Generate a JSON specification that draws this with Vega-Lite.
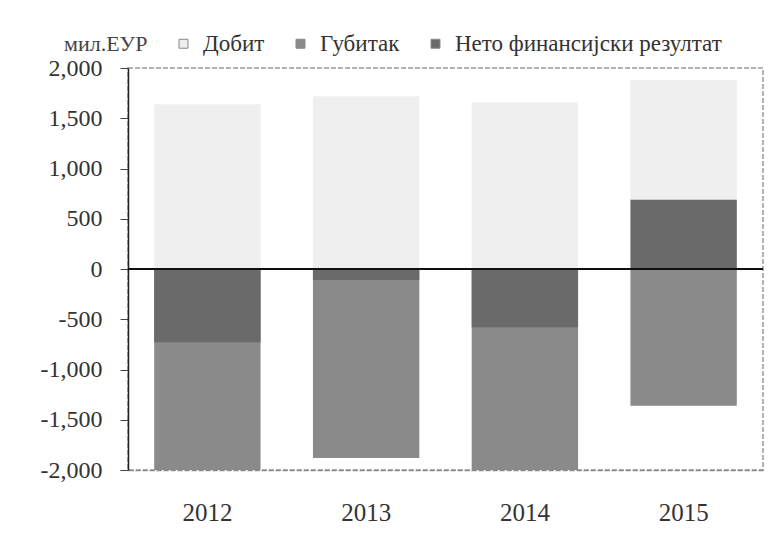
{
  "$schema": "https://vega.github.io/schema/vega-lite/v6.json",
  "width": 635,
  "height": 402,
  "autosize": "none",
  "padding": {"left": 128, "top": 68, "right": 7, "bottom": 69},
  "background": "white",
  "config": {
    "font": "Liberation Serif",
    "view": {"stroke": "#9a9a9a", "strokeDash": [5, 2], "strokeWidth": 1.5}
  },
  "data": {
    "values": [
      {"year": "2012", "series": "Добит", "value": 1640},
      {"year": "2013", "series": "Добит", "value": 1720},
      {"year": "2014", "series": "Добит", "value": 1660},
      {"year": "2015", "series": "Добит", "value": 1880},
      {"year": "2012", "series": "Губитак", "value": -2000},
      {"year": "2013", "series": "Губитак", "value": -1880},
      {"year": "2014", "series": "Губитак", "value": -2020},
      {"year": "2015", "series": "Губитак", "value": -1360},
      {"year": "2012", "series": "Нето финансијски резултат", "value": -730},
      {"year": "2013", "series": "Нето финансијски резултат", "value": -110},
      {"year": "2014", "series": "Нето финансијски резултат", "value": -580},
      {"year": "2015", "series": "Нето финансијски резултат", "value": 690}
    ]
  },
  "layer": [
    {
      "mark": {"type": "bar", "opacity": 1, "clip": true},
      "encoding": {
        "x": {
          "field": "year",
          "type": "nominal",
          "scale": {"paddingInner": 0.33, "paddingOuter": 0.165},
          "axis": {
            "title": null,
            "labelAngle": 0,
            "ticks": false,
            "labelFontSize": 25,
            "labelColor": "#333",
            "labelPadding": 30,
            "domainColor": "#8a8a8a",
            "domainDash": [5, 2],
            "domainWidth": 1.5
          }
        },
        "y": {
          "field": "value",
          "type": "quantitative",
          "stack": null,
          "scale": {"domain": [-2000, 2000], "nice": false},
          "axis": {
            "title": null,
            "values": [-2000, -1500, -1000, -500, 0, 500, 1000, 1500, 2000],
            "format": ",d",
            "labelExpr": "replace(datum.label, '−', '-')",
            "grid": false,
            "labelFontSize": 24,
            "labelColor": "#333",
            "domainColor": "#222",
            "domainWidth": 1.5,
            "tickColor": "#444",
            "tickSize": 8,
            "labelPadding": 18
          }
        },
        "color": {
          "field": "series",
          "type": "nominal",
          "sort": ["Добит", "Губитак", "Нето финансијски резултат"],
          "scale": {
            "domain": ["Добит", "Губитак", "Нето финансијски резултат"],
            "range": ["#efefef", "#8a8a8a", "#6a6a6a"]
          },
          "legend": {
            "title": "мил.ЕУР",
            "titleOrient": "left",
            "titleFontSize": 22,
            "titleFontWeight": "normal",
            "titleColor": "#444",
            "orient": "none",
            "legendX": -64,
            "legendY": -36,
            "direction": "horizontal",
            "labelFontSize": 23,
            "labelColor": "#333",
            "labelLimit": 500,
            "symbolType": "square",
            "symbolSize": 80,
            "symbolStrokeColor": "#888",
            "symbolStrokeWidth": 1,
            "columnPadding": 24,
            "labelOffset": 8,
            "titlePadding": 24
          }
        },
        "order": {"field": "series", "sort": "ascending"}
      }
    },
    {
      "mark": {"type": "rule", "color": "#111", "strokeWidth": 1.5},
      "encoding": {"y": {"datum": 0}}
    }
  ]
}
